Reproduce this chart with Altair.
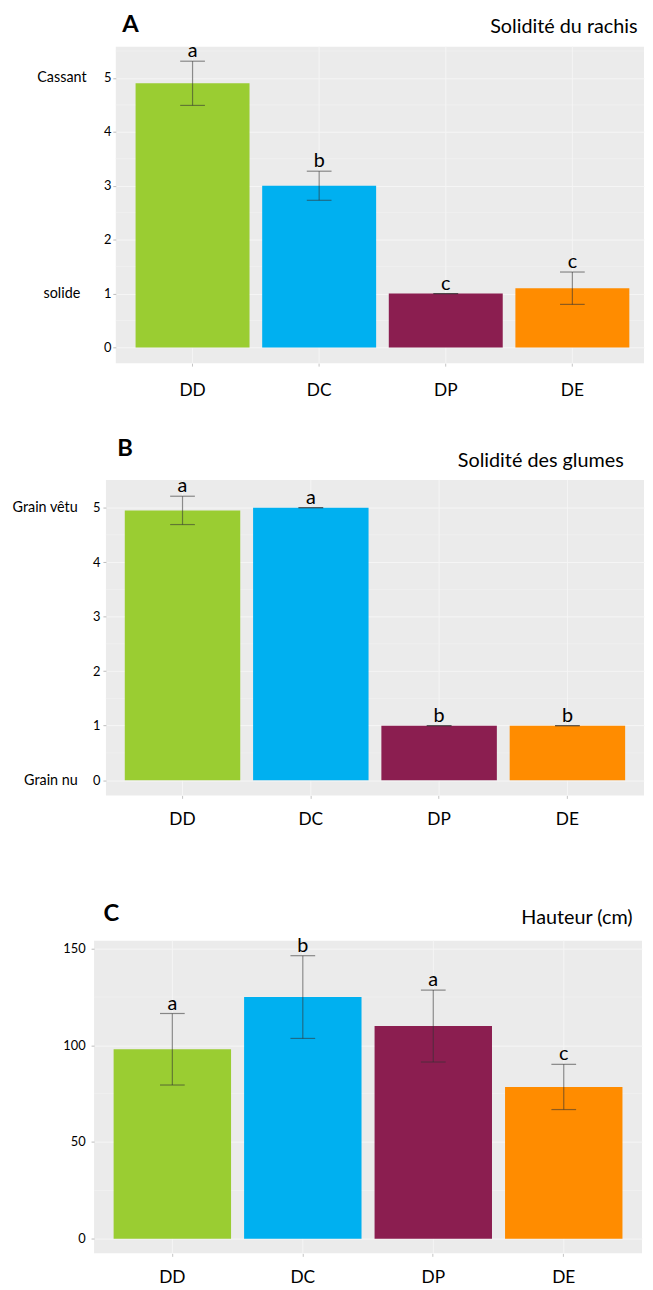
import altair as alt
import pandas as pd

FONT = "Lato"

categories = ["DD", "DC", "DP", "DE"]
bar_colors = ["#9ACD32", "#00B0F0", "#8B1E50", "#FF8C00"]

# Panel A - Solidité du rachis
a_mean = [4.9, 3.0, 1.0, 1.1]
a_err = [0.41, 0.27, 0.0, 0.30]
a_letters = ["a", "b", "c", "c"]
a_ticks = [0, 1, 2, 3, 4, 5]
a_minor = [0.5, 1.5, 2.5, 3.5, 4.5, 5.5]
a_name_values = [5, 1]
a_name_labels = ["Cassant", "solide"]

# Panel B - Solidité des glumes
b_mean = [4.95, 5.0, 1.0, 1.0]
b_err = [0.26, 0.0, 0.0, 0.0]
b_letters = ["a", "a", "b", "b"]
b_ticks = [0, 1, 2, 3, 4, 5]
b_minor = [0.5, 1.5, 2.5, 3.5, 4.5]
b_name_values = [5, 0]
b_name_labels = ["Grain vêtu", "Grain nu"]

# Panel C - Hauteur (cm)
c_mean = [98, 125, 110, 78.5]
c_err = [18.5, 21.4, 18.6, 11.7]
c_letters = ["a", "b", "a", "c"]
c_ticks = [0, 50, 100, 150]
c_minor = [25, 75, 125]

EB_COLOR = "#333333"


def label_expr(values, labels):
    expr = "''"
    for v, l in reversed(list(zip(values, labels))):
        expr = f"datum.value == {v} ? '{l}' : ({expr})"
    return expr


def panel(mean, err, letters, ticks, minor, domain, w, h, pad_outer, band_align,
          tag, tag_x, tag_y, desc, desc_x, desc_y, num_pad, x_label_pad,
          name_values=None, name_labels=None, name_align="right", name_pad=0):
    df = pd.DataFrame({"cat": categories, "mean": mean, "err": err, "letter": letters})
    df["lo"] = df["mean"] - df["err"]
    df["hi"] = df["mean"] + df["err"]

    xs = alt.Scale(domain=categories, paddingInner=0.1, paddingOuter=pad_outer, align=band_align)
    ys = alt.Scale(domain=domain, nice=False, zero=False)
    x_axis = alt.Axis(title=desc, titleX=desc_x, titleY=desc_y, titleAlign="right",
                      titleBaseline="middle", titleAngle=0, titleFontSize=20,
                      titleFontWeight="normal", titleFont=FONT, titleColor="black",
                      labelFontSize=17.5, labelFont=FONT, labelColor="black",
                      labelAngle=0, labelPadding=x_label_pad, tickSize=3, tickColor="#C4C4C4",
                      domain=False, grid=False)
    x_enc = alt.X("cat:N", scale=xs, sort=categories, axis=x_axis)
    base = alt.Chart(df)

    minor_df = pd.DataFrame({"v": minor})
    hgrid_minor = alt.Chart(minor_df).mark_rule(color="#F2F2F2", strokeWidth=0.7).encode(
        y=alt.Y("v:Q", scale=ys, axis=None)
    )
    vgrid = base.mark_rule(color="#F5F5F5", strokeWidth=1).encode(x=x_enc)

    bars = base.mark_bar().encode(
        x=x_enc,
        y=alt.Y("mean:Q", scale=ys,
                axis=alt.Axis(orient="left", values=ticks, title=tag, titleAngle=0,
                              titleX=tag_x, titleY=tag_y, titleAlign="left",
                              titleBaseline="middle", titleFontSize=24, titleFontWeight="bold",
                              titleFont=FONT, titleColor="black",
                              labelFontSize=13, labelFont=FONT, labelColor="black",
                              labelPadding=num_pad, tickSize=3, tickColor="#BBBBBB",
                              domain=False, grid=True, gridColor="#F6F6F6", gridWidth=1)),
        y2=alt.datum(0),
        color=alt.Color("cat:N", scale=alt.Scale(domain=categories, range=bar_colors), legend=None),
    )

    if name_values:
        name_axis = alt.Axis(orient="left", values=name_values,
                             labelExpr=label_expr(name_values, name_labels),
                             title=None, ticks=False, tickSize=0, domain=False, grid=False,
                             labelPadding=name_pad, labelAlign=name_align, labelBaseline="middle",
                             labelFontSize=14.5, labelFont=FONT, labelColor="black")
        ebar = base.mark_rule(color=EB_COLOR, opacity=0.55, strokeWidth=1.2).encode(
            x=x_enc, y=alt.Y("lo:Q", scale=ys, axis=name_axis), y2="hi:Q")
    else:
        ebar = base.mark_rule(color=EB_COLOR, opacity=0.55, strokeWidth=1.2).encode(
            x=x_enc, y=alt.Y("lo:Q", scale=ys, axis=None), y2="hi:Q")

    cap_lo = base.mark_tick(orient="horizontal", size=25, thickness=1.2, color=EB_COLOR,
                            opacity=0.55).encode(x=x_enc, y=alt.Y("lo:Q", scale=ys, axis=None))
    cap_hi = base.mark_tick(orient="horizontal", size=25, thickness=1.2, color=EB_COLOR,
                            opacity=0.55).encode(x=x_enc, y=alt.Y("hi:Q", scale=ys, axis=None))
    text = base.mark_text(baseline="alphabetic", dy=-4, fontSize=20, font=FONT,
                          color="black").encode(
        x=x_enc, y=alt.Y("hi:Q", scale=ys, axis=None), text="letter:N")

    return alt.layer(hgrid_minor, vgrid, bars, ebar, cap_lo, cap_hi, text).resolve_axis(
        y="independent"
    ).properties(width=w, height=h, view=alt.ViewBackground(fill="#EBEBEB", strokeWidth=0))


def spacer(w):
    return alt.Chart(pd.DataFrame({"z": [0]})).mark_point(size=0, opacity=0, strokeWidth=0).encode(
        x=alt.value(0), y=alt.value(0)
    ).properties(width=w, height=1)


panel_a = panel(a_mean, a_err, a_letters, a_ticks, a_minor, [-0.29, 5.58], 534, 320, 0.136, 0.574,
                "A", 6, -22, "Solidité du rachis", 527, -340, 2, 16,
                a_name_values, a_name_labels, "center", 55)
panel_b = panel(b_mean, b_err, b_letters, b_ticks, b_minor, [-0.28, 5.51], 544, 319, 0.147, 0.5,
                "B", 11, -31.5, "Solidité des glumes", 523, -339, 3, 12,
                b_name_values, b_name_labels, "right", 29)
panel_c = panel(c_mean, c_err, c_letters, c_ticks, c_minor, [-7.6, 154.1], 554, 316, 0.15, 0.5,
                "C", 9, -28, "Hauteur (cm)", 544, -339, 6, 12)

row_a = alt.hconcat(spacer(29), panel_a, spacing=0)
row_b = alt.hconcat(spacer(3), panel_b, spacing=0)
row_c = alt.hconcat(spacer(55), panel_c, spacing=0)

chart = alt.vconcat(
    alt.vconcat(row_a, row_b, spacing=37),
    row_c,
    spacing=74,
).properties(
    padding={"left": 0, "top": -2, "right": 0, "bottom": 0}
).configure(font=FONT).configure_view(strokeWidth=0)

chart.save("out.html", embed_options={"renderer": "svg", "actions": False})
